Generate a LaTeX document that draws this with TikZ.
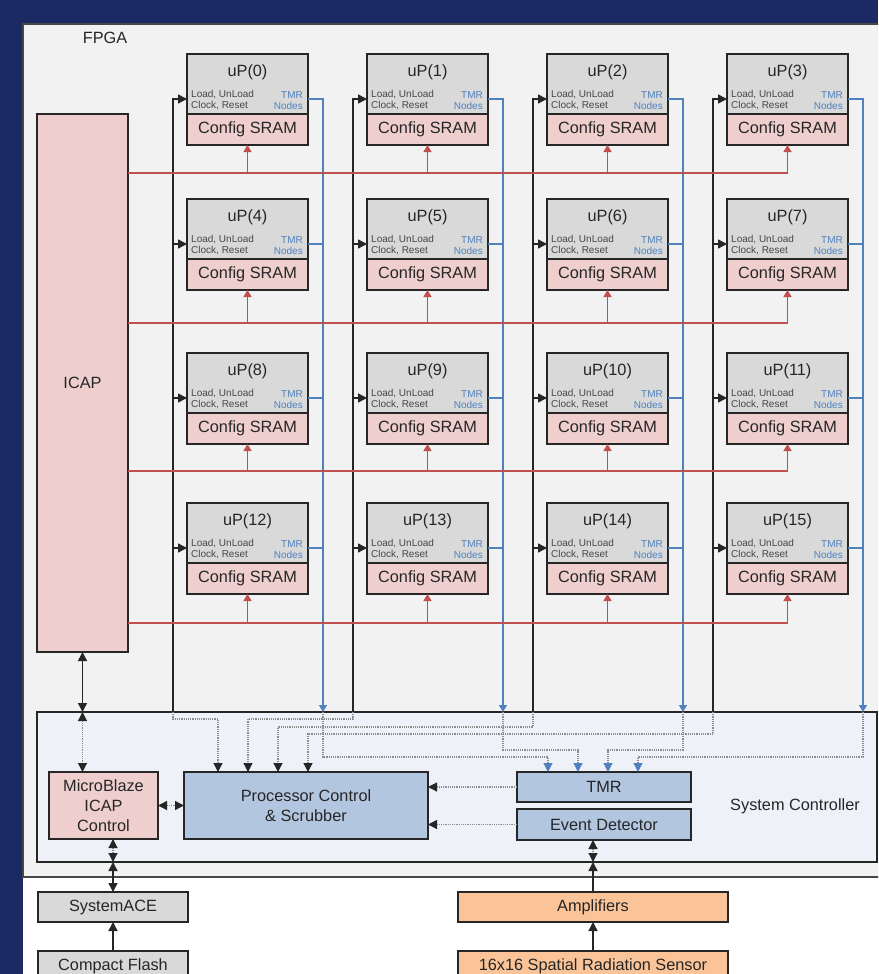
\documentclass[tikz,border=0pt]{standalone}
\usepackage{fontspec}
\setmainfont{Liberation Sans}
\usetikzlibrary{positioning,arrows.meta}
\definecolor{slidenavy}{HTML}{1B2A63}
\definecolor{edgeink}{HTML}{262626}
\definecolor{fpgafill}{HTML}{F2F2F2}
\definecolor{ctrlfill}{HTML}{EEF1F7}
\definecolor{upgray}{HTML}{D9D9D9}
\definecolor{srampink}{HTML}{EFCFCD}
\definecolor{ctrlblue}{HTML}{B3C6E0}
\definecolor{analogorange}{HTML}{FAC498}
\definecolor{tmrblue}{HTML}{4F81BD}
\definecolor{cfgred}{HTML}{C0504D}
\definecolor{dotink}{HTML}{8C8C8C}

\begin{document}
\begin{tikzpicture}[x=1pt,y=-1pt,
  >={Triangle[length=9pt,width=9pt,color=edgeink]},
  point/.style={coordinate},
  block/.style={draw=edgeink, line width=2pt, rectangle, outer sep=0pt, inner sep=0pt, align=center, text=edgeink, font=\fontsize{16.3}{20}\selectfont},
  ctlnote/.style={inner sep=0pt, align=left, text=edgeink!85, font=\fontsize{10}{11.5}\selectfont},
  tmrnote/.style={ctlnote, align=right, text=tmrblue},
  upbox/.style={block, fill=upgray, minimum width=121pt, minimum height=60pt, text height=22.5pt, text depth=37.5pt,
    label={[ctlnote, anchor=south west, xshift=4pt, yshift=4pt]south west:{Load, UnLoad\\Clock, Reset}},
    label={[tmrnote, anchor=south east, xshift=-5pt, yshift=4pt]south east:{TMR\\Nodes}}},
  sram/.style={block, fill=srampink, minimum width=121pt, minimum height=31pt},
  ctrl/.style={block, fill=ctrlblue},
  bus/.style={draw=edgeink, line width=1.4pt},
  tmrline/.style={draw=tmrblue, line width=1.4pt},
  tmrbus/.style={tmrline, -{Triangle[length=7pt,width=8pt]}},
  cfgbus/.style={draw=cfgred, line width=1.4pt, -{Triangle[length=7pt,width=8pt]}},
  dots/.style={draw=dotink, line width=1.2pt, densely dotted},
  tmrtip/.style={-{Triangle[length=9pt,width=9pt,color=tmrblue]}}]
\useasboundingbox (0,0) rectangle (878,974);
\clip (0,0) rectangle (878,974);
\fill[slidenavy] (0,0) rectangle (878,974);
\fill[white] (23,24) rectangle (878,974);
\node[draw=edgeink!85, line width=1.5pt, fill=fpgafill, minimum width=857pt, minimum height=853pt, outer sep=0pt] (fpga) at (451.5,450.5) {};
\node[block, fill=ctrlfill, minimum width=840pt, minimum height=150pt] (sys) at (457,787) {};
\node[text=edgeink, font=\fontsize{16.3}{20}\selectfont] (fpgatxt) at (105,38) {FPGA};
\node[text=edgeink, font=\fontsize{16.3}{20}\selectfont] (systxt) at (795,806) {System Controller};
% ICAP and the 4x4 processor array
\node[block, fill=srampink, minimum width=91pt, minimum height=538pt] (icap) at (82.5,383) {ICAP};
\node[upbox] (u0) at (247.5,84) {uP(0)};
\node[upbox] (u1) at (427.5,84) {uP(1)};
\node[upbox] (u2) at (607.5,84) {uP(2)};
\node[upbox] (u3) at (787.5,84) {uP(3)};
\node[upbox] (u4) at (247.5,229) {uP(4)};
\node[upbox] (u5) at (427.5,229) {uP(5)};
\node[upbox] (u6) at (607.5,229) {uP(6)};
\node[upbox] (u7) at (787.5,229) {uP(7)};
\node[upbox] (u8) at (247.5,383) {uP(8)};
\node[upbox] (u9) at (427.5,383) {uP(9)};
\node[upbox] (u10) at (607.5,383) {uP(10)};
\node[upbox] (u11) at (787.5,383) {uP(11)};
\node[upbox] (u12) at (247.5,533) {uP(12)};
\node[upbox] (u13) at (427.5,533) {uP(13)};
\node[upbox] (u14) at (607.5,533) {uP(14)};
\node[upbox] (u15) at (787.5,533) {uP(15)};
\node[sram, below=0pt of u0] (s0) {Config SRAM};
\node[sram, below=0pt of u1] (s1) {Config SRAM};
\node[sram, below=0pt of u2] (s2) {Config SRAM};
\node[sram, below=0pt of u3] (s3) {Config SRAM};
\node[sram, below=0pt of u4] (s4) {Config SRAM};
\node[sram, below=0pt of u5] (s5) {Config SRAM};
\node[sram, below=0pt of u6] (s6) {Config SRAM};
\node[sram, below=0pt of u7] (s7) {Config SRAM};
\node[sram, below=0pt of u8] (s8) {Config SRAM};
\node[sram, below=0pt of u9] (s9) {Config SRAM};
\node[sram, below=0pt of u10] (s10) {Config SRAM};
\node[sram, below=0pt of u11] (s11) {Config SRAM};
\node[sram, below=0pt of u12] (s12) {Config SRAM};
\node[sram, below=0pt of u13] (s13) {Config SRAM};
\node[sram, below=0pt of u14] (s14) {Config SRAM};
\node[sram, below=0pt of u15] (s15) {Config SRAM};
% system controller contents
\node[block, fill=srampink, minimum width=109pt, minimum height=67pt] (mb) at (103.5,805.5) {MicroBlaze\\ICAP\\Control};
\node[ctrl, minimum width=244pt, minimum height=67pt] (pc) at (306,805.5) {Processor Control\\\& Scrubber};
\node[ctrl, minimum width=174pt, minimum height=30pt] (tmr) at (604,787) {TMR};
\node[ctrl, minimum width=174pt, minimum height=31pt] (ed) at (604,824.5) {Event Detector};
% off-chip parts
\node[block, fill=upgray, minimum width=150pt, minimum height=30pt] (ace) at (113,907) {SystemACE};
\node[block, fill=upgray, minimum width=150pt, minimum height=30pt] (cf) at (113,966) {Compact Flash};
\node[block, fill=analogorange, minimum width=270pt, minimum height=30pt] (amp) at (593,907) {Amplifiers};
\node[block, fill=analogorange, minimum width=270pt, minimum height=30pt] (sen) at (593,966) {16x16 Spatial Radiation Sensor};
% bus points
\node[point] (k0) at (173,99) {};
\node[point] (k1) at (353,99) {};
\node[point] (k2) at (533,99) {};
\node[point] (k3) at (713,99) {};
\node[point] (t0) at (323,99) {};
\node[point] (t1) at (503,99) {};
\node[point] (t2) at (683,99) {};
\node[point] (t3) at (863,99) {};
\node[point] (a1) at (173,244) {};
\node[point] (a2) at (173,398) {};
\node[point] (a3) at (173,548) {};
\node[point] (r0) at (128,173) {};
\node[point] (r1) at (128,323) {};
\node[point] (r2) at (128,471) {};
\node[point] (r3) at (128,623) {};
% load / unload / clock / reset
\draw[bus,->] (k0 |- sys.north) -- (k0) -- (u0.west |- k0);
\draw[bus,->] (k1 |- sys.north) -- (k1) -- (u1.west |- k1);
\draw[bus,->] (k2 |- sys.north) -- (k2) -- (u2.west |- k2);
\draw[bus,->] (k3 |- sys.north) -- (k3) -- (u3.west |- k3);
\draw[bus,->] (k0 |- a1) -- (u4.west |- a1);
\draw[bus,->] (k1 |- a1) -- (u5.west |- a1);
\draw[bus,->] (k2 |- a1) -- (u6.west |- a1);
\draw[bus,->] (k3 |- a1) -- (u7.west |- a1);
\draw[bus,->] (k0 |- a2) -- (u8.west |- a2);
\draw[bus,->] (k1 |- a2) -- (u9.west |- a2);
\draw[bus,->] (k2 |- a2) -- (u10.west |- a2);
\draw[bus,->] (k3 |- a2) -- (u11.west |- a2);
\draw[bus,->] (k0 |- a3) -- (u12.west |- a3);
\draw[bus,->] (k1 |- a3) -- (u13.west |- a3);
\draw[bus,->] (k2 |- a3) -- (u14.west |- a3);
\draw[bus,->] (k3 |- a3) -- (u15.west |- a3);
% TMR nodes
\draw[tmrbus] (u0.east |- t0) -- (t0) -- (t0 |- sys.north);
\draw[tmrbus] (u1.east |- t1) -- (t1) -- (t1 |- sys.north);
\draw[tmrbus] (u2.east |- t2) -- (t2) -- (t2 |- sys.north);
\draw[tmrbus] (u3.east |- t3) -- (t3) -- (t3 |- sys.north);
\draw[tmrline] (u4.east |- a1) -- (t0 |- a1);
\draw[tmrline] (u5.east |- a1) -- (t1 |- a1);
\draw[tmrline] (u6.east |- a1) -- (t2 |- a1);
\draw[tmrline] (u7.east |- a1) -- (t3 |- a1);
\draw[tmrline] (u8.east |- a2) -- (t0 |- a2);
\draw[tmrline] (u9.east |- a2) -- (t1 |- a2);
\draw[tmrline] (u10.east |- a2) -- (t2 |- a2);
\draw[tmrline] (u11.east |- a2) -- (t3 |- a2);
\draw[tmrline] (u12.east |- a3) -- (t0 |- a3);
\draw[tmrline] (u13.east |- a3) -- (t1 |- a3);
\draw[tmrline] (u14.east |- a3) -- (t2 |- a3);
\draw[tmrline] (u15.east |- a3) -- (t3 |- a3);
% configuration port
\draw[cfgbus] (r0) -- (s3.south |- r0) -- (s3.south);
\draw[cfgbus] (s0.south |- r0) -- (s0.south);
\draw[cfgbus] (s1.south |- r0) -- (s1.south);
\draw[cfgbus] (s2.south |- r0) -- (s2.south);
\draw[cfgbus] (r1) -- (s7.south |- r1) -- (s7.south);
\draw[cfgbus] (s4.south |- r1) -- (s4.south);
\draw[cfgbus] (s5.south |- r1) -- (s5.south);
\draw[cfgbus] (s6.south |- r1) -- (s6.south);
\draw[cfgbus] (r2) -- (s11.south |- r2) -- (s11.south);
\draw[cfgbus] (s8.south |- r2) -- (s8.south);
\draw[cfgbus] (s9.south |- r2) -- (s9.south);
\draw[cfgbus] (s10.south |- r2) -- (s10.south);
\draw[cfgbus] (r3) -- (s15.south |- r3) -- (s15.south);
\draw[cfgbus] (s12.south |- r3) -- (s12.south);
\draw[cfgbus] (s13.south |- r3) -- (s13.south);
\draw[cfgbus] (s14.south |- r3) -- (s14.south);
% inside the system controller
\draw[dots,->] (k0 |- sys.north) -- ++(0,7) -| ([xshift=34pt]pc.north west);
\draw[dots,->] (k1 |- sys.north) -- ++(0,7) -| ([xshift=64pt]pc.north west);
\draw[dots,->] (k2 |- sys.north) -- ++(0,15) -| ([xshift=94pt]pc.north west);
\draw[dots,->] (k3 |- sys.north) -- ++(0,22) -| ([xshift=124pt]pc.north west);
\draw[dots,tmrtip] (t0 |- sys.north) -- ++(0,45) -| ([xshift=31pt]tmr.north west);
\draw[dots,tmrtip] (t1 |- sys.north) -- ++(0,38) -| ([xshift=61pt]tmr.north west);
\draw[dots,tmrtip] (t2 |- sys.north) -- ++(0,38) -| ([xshift=91pt]tmr.north west);
\draw[dots,tmrtip] (t3 |- sys.north) -- ++(0,45) -| ([xshift=121pt]tmr.north west);
\draw[dots,->] (tmr.west) -- (pc.east |- tmr.west);
\draw[dots,->] (ed.west) -- (pc.east |- ed.west);
\draw[dots,<->] (mb.east) -- (pc.west);
\draw[bus,<->] (icap.south) -- (icap.south |- sys.north);
\draw[dots,<->] (icap.south |- sys.north) -- (icap.south |- mb.north);
\draw[dots,<->] (ace.north |- mb.south) -- (ace.north |- sys.south);
\draw[bus,<->] (ace.north |- sys.south) -- (ace.north);
\draw[bus,->] (cf.north) -- (ace.south);
\draw[dots,<->] (amp.north |- ed.south) -- (amp.north |- sys.south);
\draw[bus,->] (amp.north) -- (amp.north |- sys.south);
\draw[bus,->] (sen.north) -- (amp.south);
\end{tikzpicture}
\end{document}
